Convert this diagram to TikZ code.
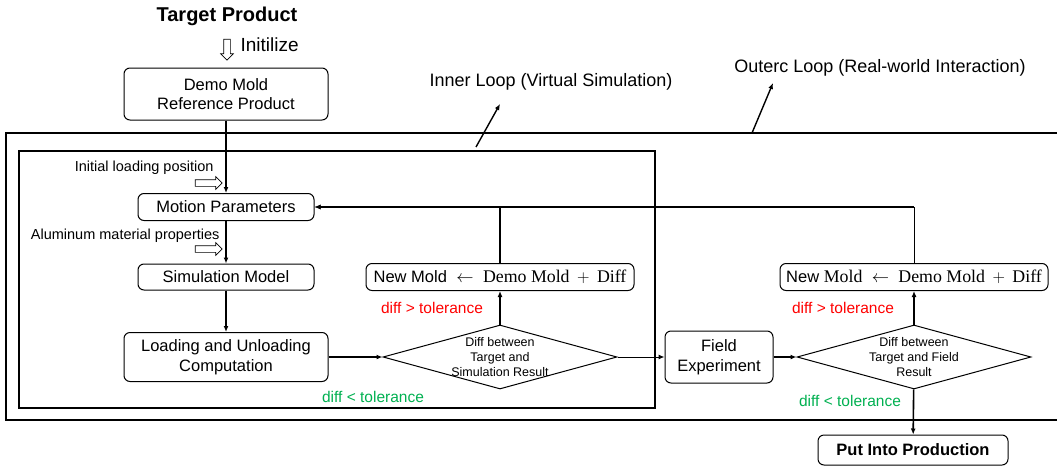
\documentclass[tikz,border=0pt]{standalone}
\usepackage{fontspec}
\setsansfont{Liberation Sans}
\renewcommand{\familydefault}{\sfdefault}
\newfontfamily\moldfont[Scale=1.08]{Liberation Serif}
\usetikzlibrary{shapes.geometric,shapes.arrows,arrows.meta,positioning}
\definecolor{diffred}{RGB}{255,0,0}
\definecolor{diffgreen}{RGB}{0,176,80}
\newcommand{\fs}[1]{\fontsize{#1}{1.2\dimexpr #1pt\relax}\selectfont}

\begin{document}
\begin{tikzpicture}[x=1pt, y=-1pt, >={Latex[length=6pt,width=5pt]},
    box/.style={draw, rounded corners=6pt, line width=1pt, align=center, font=\fs{16.5}},
    cond/.style={draw, diamond, line width=1pt, minimum width=234pt, minimum height=64pt, inner sep=0pt},
    condtext/.style={align=center, font=\fs{12.5}, inner sep=0pt},
    hollow/.style={draw, single arrow, inner sep=3pt, single arrow head extend=3pt, line width=0.7pt},
    conn/.style={line width=1.6pt},
    note/.style={font=\fs{14.5}},
    loopname/.style={font=\fs{18}}]
  \useasboundingbox (0,0) rectangle (1057,466);

  % the two loops
  \draw[line width=1.8pt] (6,133) rectangle (1062,420);
  \draw[line width=2pt] (19,151) rectangle (655,408);

  \node (target) at (227,16) [font=\bfseries\fs{20}] {Target Product};
  \node (init) at (227,48) [hollow, rotate=-90, minimum height=21pt] {};
  \node (initlbl) at (237,45) [anchor=west, font=\fs{19}] {Initilize};

  \node (demo) at (226,94) [box, minimum width=204pt, minimum height=52pt] {Demo Mold\\Reference Product};
  \node (motion) at (226,207) [box, minimum width=176pt, minimum height=27pt] {Motion Parameters};
  \node (sim) at (226,277) [box, minimum width=176pt, minimum height=26pt] {Simulation Model};
  \node (load) at (226,357) [box, minimum width=204pt, minimum height=49pt] {Loading and Unloading\\Computation};

  \node (posin) at (207,183) [hollow, minimum height=27pt] {};
  \node (matin) at (207,249) [hollow, minimum height=27pt] {};
  \path node (poslbl) at (217,168) [note, anchor=east] {Initial loading position};
  \path node (matlbl) at (223,236) [note, anchor=east] {Aluminum material properties};

  \node (d1) at (500,357) [cond, label={[condtext]center:Diff between\\Target and\\Simulation Result}] {};
  \node (nm1) at (500,277) [box, minimum width=268pt, minimum height=27pt]
    {New Mold $\;\leftarrow\;$ {\moldfont Demo Mold} $\,+\,$ {\moldfont Diff}};
  \node (field) at (719,357) [box, minimum width=108pt, minimum height=52pt] {Field\\Experiment};
  \node (d2) at (914,357) [cond, label={[condtext]center:Diff between\\Target and Field\\Result}] {};
  \node (nm2) at (914,277) [box, minimum width=268pt, minimum height=27pt]
    {New {\moldfont Mold} $\;\leftarrow\;$ {\moldfont Demo Mold} $\,+\,$ {\moldfont Diff}};
  \node (prod) at (913,450) [box, font=\bfseries\fs{16.5}, minimum width=190pt, minimum height=30pt] {Put Into Production};

  \path node at (432,308) [font=\fs{15.5}, text=diffred] {diff > tolerance};
  \path node at (373,397) [font=\fs{15.5}, text=diffgreen] {diff < tolerance};
  \path node at (843,308) [font=\fs{15.5}, text=diffred] {diff > tolerance};
  \path node at (850,401) [font=\fs{15.5}, text=diffgreen] {diff < tolerance};

  \node (innerlbl) at (551,82) [loopname] {Inner Loop (Virtual Simulation)};
  \node (outerlbl) at (880,68) [loopname] {Outerc Loop (Real-world Interaction)};
  \coordinate (innertail) at (476,147);
  \coordinate (innerhead) at (500,104);
  \coordinate (outertail) at (752,133);
  \coordinate (outerhead) at (773,83);
  \draw[->, line width=1.4pt] (innertail) -- (innerhead);
  \draw[->, line width=1.4pt] (outertail) -- (outerhead);

  \draw[conn, ->] (demo) -- (motion);
  \draw[conn, ->] (motion) -- (sim);
  \draw[conn, ->] (sim) -- (load);
  \draw[conn, ->] (load) -- (d1);
  \draw[conn, ->] (d1) -- (nm1);
  \draw[conn, ->] (nm1) |- (motion);
  \coordinate (back) at (nm2 |- motion);
  \draw[line width=0.8pt] (nm2) -- (back);
  \draw[conn, ->] (back) -- (motion);
  \draw[line width=1pt, ->] (d1) -- (field);
  \draw[conn, ->] (field) -- (d2);
  \draw[conn, ->] (d2) -- (nm2);
  \draw[conn, ->] (d2) -- (prod);
\end{tikzpicture}
\end{document}
